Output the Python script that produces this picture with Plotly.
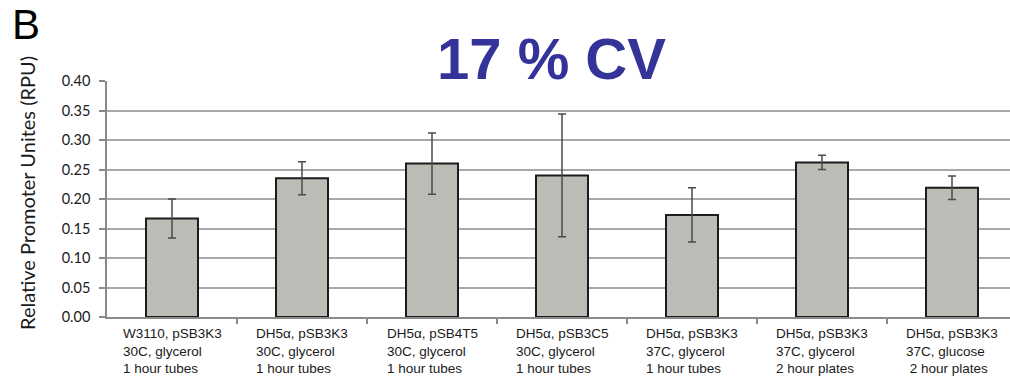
import plotly.graph_objects as go

# Promoter activity per strain / growth condition
conditions = [
    "W3110, pSB3K3<br>30C, glycerol<br>1 hour tubes",
    "DH5α, pSB3K3<br>30C, glycerol<br>1 hour tubes",
    "DH5α, pSB4T5<br>30C, glycerol<br>1 hour tubes",
    "DH5α, pSB3C5<br>30C, glycerol<br>1 hour tubes",
    "DH5α, pSB3K3<br>37C, glycerol<br>1 hour tubes",
    "DH5α, pSB3K3<br>37C, glycerol<br>2 hour plates",
    "DH5α, pSB3K3<br>37C, glucose<br>\u00a02 hour plates",
]
rpu_mean = [0.167, 0.235, 0.260, 0.240, 0.173, 0.262, 0.219]
rpu_err = [0.033, 0.028, 0.052, 0.104, 0.046, 0.012, 0.020]
y_ticks = [0.00, 0.05, 0.10, 0.15, 0.20, 0.25, 0.30, 0.35, 0.40]

positions = list(range(len(conditions)))

# plot-area geometry in pixels
L, R, T, B = 107, 0, 81, 63
W, H = 1010, 380
plot_w = W - L - R
plot_h = H - T - B
cat_px = 130


def px_to_paper_x(px):
    return (px - L) / plot_w


def px_to_paper_y(py):
    return (H - B - py) / plot_h


fig = go.Figure()
fig.add_trace(go.Bar(
    x=positions,
    y=rpu_mean,
    width=0.4,
    marker=dict(color="#bcbcb6", line=dict(color="#1c1c1c", width=2)),
    error_y=dict(type="data", array=rpu_err, visible=True,
                 color="#4a4a4a", thickness=1.5, width=4),
    showlegend=False,
))

# multi-line category labels, left aligned within each block
for pos, label in zip(positions, conditions):
    fig.add_annotation(
        x=pos, y=0, xref="x", yref="y",
        text=label, showarrow=False,
        xanchor="center", yanchor="top", align="left",
        yshift=-7,
        font=dict(family="Liberation Sans, Arial, sans-serif", size=13.5, color="#1a1a1a"),
    )

# panel letter
fig.add_annotation(
    x=px_to_paper_x(10), y=px_to_paper_y(-1), xref="paper", yref="paper",
    xanchor="left", yanchor="top",
    text="B", showarrow=False,
    font=dict(family="Liberation Sans, Arial, sans-serif", size=42, color="#000000"),
)

# headline
fig.add_annotation(
    x=px_to_paper_x(551), y=0.40, xref="paper", yref="y",
    text="<b>17 % CV</b>", showarrow=False,
    xanchor="center", yanchor="bottom", yshift=-12,
    font=dict(family="Liberation Sans, Arial, sans-serif", size=58, color="#333399"),
)

# y-axis title
fig.add_annotation(
    x=px_to_paper_x(27), y=px_to_paper_y(193), xref="paper", yref="paper",
    xanchor="center", yanchor="middle", textangle=-90,
    text="Relative Promoter Unites (RPU)", showarrow=False,
    font=dict(family="Lato, sans-serif", size=20, color="#1a1a1a"),
)

fig.update_layout(
    width=W, height=H,
    margin=dict(l=L, r=R, t=T, b=B),
    paper_bgcolor="white", plot_bgcolor="white",
)

fig.update_xaxes(
    range=[-0.5, -0.5 + plot_w / cat_px],
    tickvals=[p + 0.5 for p in positions],
    showticklabels=False,
    ticks="outside", ticklen=5, tickcolor="#8a8a8a", tickwidth=1.5,
    showline=True, linecolor="#8a8a8a", linewidth=1.5,
    showgrid=False, zeroline=False,
)

fig.update_yaxes(
    range=[0, 0.40],
    tickvals=y_ticks,
    ticktext=[f"{v:.2f}" for v in y_ticks],
    tickfont=dict(family="Lato, sans-serif", size=14.5, color="#1a1a1a"),
    ticks="outside", ticklen=6, tickcolor="#8a8a8a", tickwidth=1.5,
    ticklabelstandoff=6,
    showline=True, linecolor="#8a8a8a", linewidth=1.5,
    showgrid=True, gridcolor="#a8a8a8", gridwidth=1.5,
    zeroline=False,
)

fig.write_html("out.html")
